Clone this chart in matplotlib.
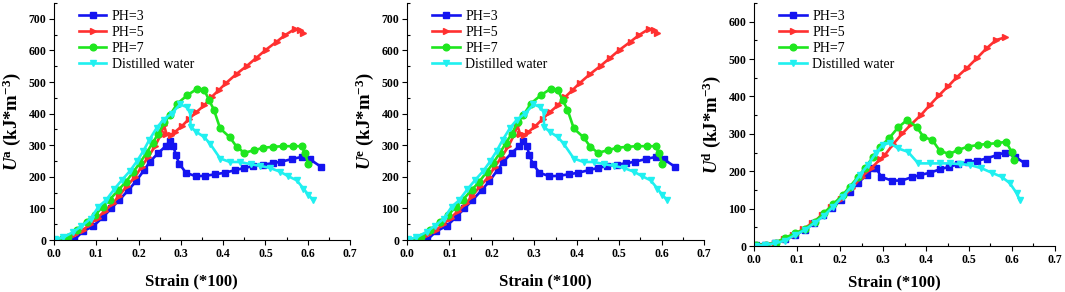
import matplotlib
matplotlib.use("Agg")
import matplotlib.pyplot as plt
from matplotlib.ticker import MultipleLocator

plt.rcParams['font.family'] = ['Liberation Serif', 'DejaVu Serif']
plt.rcParams['mathtext.fontset'] = 'custom'
plt.rcParams['mathtext.rm'] = 'Liberation Serif'
plt.rcParams['mathtext.it'] = 'Liberation Serif:italic'
plt.rcParams['mathtext.bf'] = 'Liberation Serif:bold'
plt.rcParams['mathtext.bfit'] = 'Liberation Serif:bold:italic'

# ---- panel a / e (same curves) ----
ph3_x = [0.047, 0.069, 0.093, 0.117, 0.135, 0.154, 0.176, 0.194, 0.214, 0.227, 0.247, 0.265, 0.274,
         0.282, 0.288, 0.296, 0.312, 0.335, 0.357, 0.381, 0.404, 0.428, 0.45, 0.471, 0.495, 0.517,
         0.538, 0.562, 0.586, 0.605, 0.631]
ph3_y = [0, 28, 44, 74, 100, 126, 158, 186, 223, 248, 276, 298, 314,
         299, 270, 242, 213, 202, 203, 208, 213, 221, 228, 234, 239, 243,
         248, 256, 263, 256, 232]
ph5_x = [0.026, 0.05, 0.069, 0.085, 0.103, 0.121, 0.139, 0.154, 0.172, 0.192, 0.207, 0.223, 0.239,
         0.252, 0.26, 0.266, 0.276, 0.286, 0.302, 0.32, 0.337, 0.355, 0.373, 0.391, 0.408, 0.432,
         0.456, 0.479, 0.501, 0.527, 0.546, 0.57, 0.582, 0.59]
ph5_y = [2, 18, 32, 50, 70, 93, 116, 140, 170, 200, 232, 263, 297,
         332, 363, 337, 332, 342, 360, 384, 405, 426, 453, 476, 498, 526,
         551, 577, 602, 628, 648, 668, 665, 656]
ph7_x = [0.02, 0.034, 0.054, 0.077, 0.097, 0.115, 0.132, 0.152, 0.17, 0.188, 0.203, 0.219, 0.233,
         0.247, 0.261, 0.274, 0.292, 0.315, 0.339, 0.355, 0.367, 0.378, 0.393, 0.416, 0.432, 0.45,
         0.473, 0.495, 0.519, 0.541, 0.566, 0.586, 0.594, 0.601]
ph7_y = [2, 10, 32, 58, 79, 105, 128, 158, 184, 216, 244, 276, 307,
         337, 372, 395, 432, 458, 479, 476, 442, 413, 353, 325, 295, 276,
         284, 292, 295, 297, 297, 297, 274, 242]
dw_x = [0.002, 0.022, 0.046, 0.065, 0.087, 0.105, 0.123, 0.142, 0.16, 0.18, 0.196, 0.211, 0.225,
        0.243, 0.259, 0.278, 0.298, 0.314, 0.322, 0.323, 0.337, 0.355, 0.369, 0.393, 0.416, 0.44,
        0.465, 0.487, 0.511, 0.535, 0.554, 0.574, 0.59, 0.601, 0.613]
dw_y = [2, 8, 26, 44, 68, 105, 126, 160, 189, 219, 249, 281, 316,
        355, 381, 400, 429, 421, 405, 358, 342, 326, 305, 258, 247, 247,
        240, 235, 228, 216, 202, 189, 163, 144, 126]

# ---- panel d ----
d_ph3_x = [0.005, 0.025, 0.048, 0.071, 0.095, 0.118, 0.139, 0.161, 0.182, 0.203, 0.223, 0.242, 0.262,
           0.277, 0.283, 0.296, 0.32, 0.343, 0.367, 0.387, 0.409, 0.432, 0.454, 0.475, 0.497, 0.518,
           0.541, 0.564, 0.584, 0.607, 0.63]
d_ph3_y = [3, 4, 7, 18, 29, 43, 61, 83, 103, 123, 145, 169, 190,
           208, 210, 185, 175, 175, 184, 190, 196, 205, 212, 219, 224, 228,
           234, 243, 250, 239, 221]
d_ph5_x = [0.005, 0.027, 0.048, 0.069, 0.091, 0.114, 0.136, 0.158, 0.18, 0.203, 0.227, 0.25, 0.273,
           0.293, 0.304, 0.324, 0.345, 0.366, 0.388, 0.409, 0.431, 0.452, 0.473, 0.496, 0.518, 0.541,
           0.563, 0.584]
d_ph5_y = [3, 4, 9, 18, 29, 45, 62, 83, 105, 127, 154, 185, 208,
           232, 243, 273, 301, 326, 350, 377, 404, 428, 453, 477, 502, 529,
           551, 558]
d_ph7_x = [0.005, 0.029, 0.05, 0.071, 0.095, 0.118, 0.141, 0.162, 0.184, 0.206, 0.223, 0.242, 0.258,
           0.277, 0.294, 0.314, 0.335, 0.356, 0.378, 0.394, 0.415, 0.432, 0.454, 0.475, 0.498, 0.52,
           0.541, 0.566, 0.586, 0.599, 0.604]
d_ph7_y = [3, 4, 9, 21, 34, 45, 65, 87, 112, 136, 159, 185, 208,
           239, 266, 288, 317, 337, 319, 292, 283, 255, 246, 257, 266, 270,
           273, 275, 279, 252, 230]
d_dw_x = [0.005, 0.025, 0.048, 0.071, 0.095, 0.118, 0.141, 0.162, 0.184, 0.206, 0.227, 0.246, 0.265,
          0.283, 0.299, 0.316, 0.335, 0.358, 0.382, 0.409, 0.432, 0.455, 0.48, 0.502, 0.529, 0.553,
          0.576, 0.595, 0.611, 0.618]
d_dw_y = [1, 3, 7, 14, 29, 43, 62, 80, 105, 132, 159, 190, 217,
          248, 270, 276, 261, 252, 221, 221, 221, 221, 219, 217, 208, 196,
          185, 168, 141, 123]

labels = ["PH=3", "PH=5", "PH=7", "Distilled water"]
colors = ["#1414f0", "#ff3030", "#1ee61e", "#20f0f0"]
markers = ["s", ">", "o", "v"]

panel_ab = [(ph3_x, ph3_y), (ph5_x, ph5_y), (ph7_x, ph7_y), (dw_x, dw_y)]
panel_d = [(d_ph3_x, d_ph3_y), (d_ph5_x, d_ph5_y), (d_ph7_x, d_ph7_y), (d_dw_x, d_dw_y)]

panels = [
    ([0.0507, 0.178, 0.2779, 0.8116], panel_ab, 750, -0.175,
     r"$\mathbfit{U}^{\mathbf{a}}$ (kJ*m$^{\mathbf{-3}}$)"),
    ([0.3822, 0.178, 0.2789, 0.8116], panel_ab, 750, -0.175,
     r"$\mathbfit{U}^{\mathbf{e}}$ (kJ*m$^{\mathbf{-3}}$)"),
    ([0.7080, 0.1575, 0.2826, 0.8322], panel_d, 650, -0.148,
     r"$\mathbfit{U}^{\mathbf{d}}$ (kJ*m$^{\mathbf{-3}}$)"),
]

fig = plt.figure(figsize=(10.65, 2.92), dpi=100)

for rect, series, ytop, xlab_y, ylabel in panels:
    ax = fig.add_axes(rect)
    for (xs, ys), lab, c, m in zip(series, labels, colors, markers):
        ax.plot(xs, ys, color=c, marker=m, markersize=4.8, linewidth=1.9, label=lab)
    ax.set_xlim(0, 0.7)
    ax.set_ylim(0, ytop)
    ax.spines['top'].set_visible(False)
    ax.spines['right'].set_visible(False)
    ax.xaxis.set_major_locator(MultipleLocator(0.1))
    ax.xaxis.set_minor_locator(MultipleLocator(0.05))
    ax.yaxis.set_major_locator(MultipleLocator(100))
    ax.yaxis.set_minor_locator(MultipleLocator(50))
    ax.tick_params(which='major', direction='out', length=3.5, width=0.8, labelsize=8.5, pad=2)
    ax.tick_params(which='minor', direction='in', length=2.5, width=0.8)
    ax.set_xticks([i / 10 for i in range(8)])
    ax.set_xticklabels(["{:.1f}".format(i / 10) for i in range(8)])
    for t in ax.get_xticklabels() + ax.get_yticklabels():
        t.set_fontweight('bold')
    ax.set_xlabel("Strain (*100)", fontsize=12, fontweight='bold', va='center')
    ax.xaxis.set_label_coords(0.465, xlab_y)
    ax.set_ylabel(ylabel, fontsize=13.5, fontweight='bold', labelpad=4)
    ax.legend(loc='upper left', bbox_to_anchor=(0.06, 1.0), frameon=False, fontsize=10,
              handlelength=2.0, handletextpad=0.4, labelspacing=0.22, borderaxespad=0.1)

fig.savefig("out.png", dpi=100)
